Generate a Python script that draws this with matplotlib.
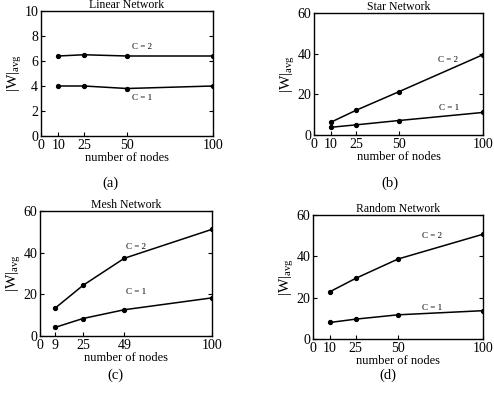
import matplotlib

matplotlib.use("Agg")

import matplotlib.pyplot as plt

plt.rcParams["font.family"] = ["Liberation Serif", "DejaVu Serif"]
plt.rcParams["mathtext.fontset"] = "custom"
plt.rcParams["mathtext.rm"] = "Liberation Serif"
plt.rcParams["mathtext.it"] = "Liberation Serif"

W, H = 494, 396

# node counts per panel
linear_x = [10, 25, 50, 100]
star_x = [10, 25, 50, 100]
mesh_x = [9, 25, 49, 100]
random_x = [10, 25, 50, 100]

# |W|avg for C = 1 and C = 2
linear_c1 = [4.0, 4.0, 3.8, 4.0]
linear_c2 = [6.4, 6.5, 6.4, 6.4]
star_c1 = [3.8, 5.0, 7.1, 11.1]
star_c2 = [6.3, 12.2, 21.2, 39.5]
mesh_c1 = [4.2, 8.4, 12.6, 18.3]
mesh_c2 = [13.5, 24.3, 37.3, 51.2]
random_c1 = [8.0, 9.6, 11.7, 13.7]
random_c2 = [22.9, 29.3, 38.7, 50.7]

fig = plt.figure(figsize=(W / 100, H / 100), dpi=100)


def px_axes(left, top, right, bottom):
    return fig.add_axes([left / W, 1 - bottom / H, (right - left) / W, (bottom - top) / H])


def panel(box, title, xs, c1, c2, ymax, yticks, xticks, lab1, lab2, tag, tagpos):
    ax = px_axes(*box)
    ax.plot(xs, c2, color="black", lw=1.1, marker="o", ms=2.8)
    ax.plot(xs, c1, color="black", lw=1.1, marker="o", ms=2.8)
    ax.set_xlim(0, 100)
    ax.set_ylim(0, ymax)
    ax.set_xticks(xticks)
    ax.set_yticks(yticks)
    ax.tick_params(direction="in", length=3, width=0.8, labelsize=10, pad=2,
                   top=False, right=True)
    for s in ax.spines.values():
        s.set_linewidth(1.0)
    ax.set_title(title, fontsize=8.5, pad=1)
    ax.set_xlabel("number of nodes", fontsize=9, labelpad=0)
    ax.set_ylabel(r"$\mathrm{|W|_{avg}}$", fontsize=11, labelpad=0)
    ax.text(lab2[0], lab2[1], "C = 2", fontsize=6.5, ha="center", va="center")
    ax.text(lab1[0], lab1[1], "C = 1", fontsize=6.5, ha="center", va="center")
    fig.text(tagpos[0] / W, 1 - tagpos[1] / H, tag, fontsize=10.5, ha="center", va="center")
    return ax


panel((41, 11, 213, 136), "Linear Network", linear_x, linear_c1, linear_c2, 10,
      [0, 2, 4, 6, 8, 10], [0, 10, 25, 50, 100], (59, 3.0), (59, 7.1), "(a)", (110, 183))
panel((314, 13, 483, 135), "Star Network", star_x, star_c1, star_c2, 60,
      [0, 20, 40, 60], [0, 10, 25, 50, 100], (80, 13.2), (79, 37), "(b)", (390, 183))
panel((40, 211, 212, 336), "Mesh Network", mesh_x, mesh_c1, mesh_c2, 60,
      [0, 20, 40, 60], [0, 9, 25, 49, 100], (56, 21.2), (56, 42.5), "(c)", (115, 375))
panel((313, 215, 483, 339), "Random Network", random_x, random_c1, random_c2, 60,
      [0, 20, 40, 60], [0, 10, 25, 50, 100], (70, 15), (70, 50), "(d)", (388, 375))

fig.savefig("out.png", dpi=100)
